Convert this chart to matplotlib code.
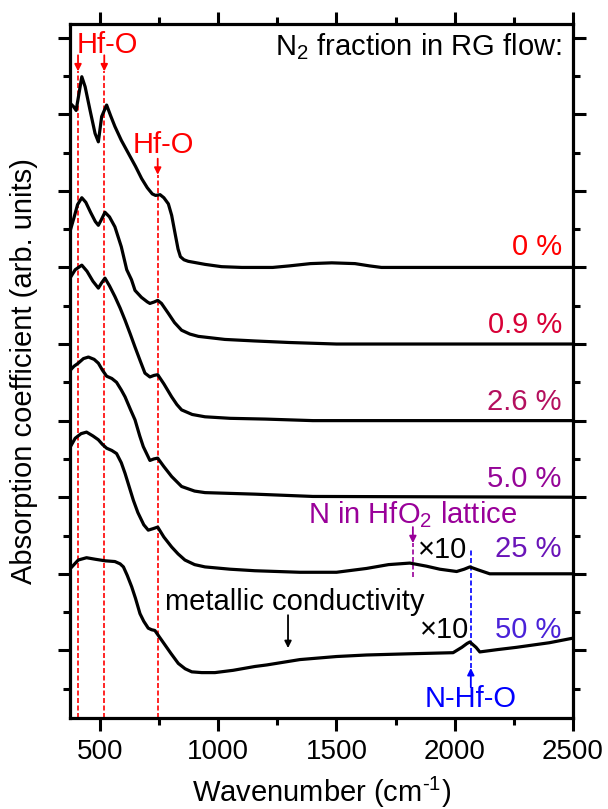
import matplotlib
matplotlib.use('Agg')
import matplotlib.pyplot as plt
from matplotlib.ticker import MultipleLocator

plt.rcParams['font.family'] = ['Liberation Sans', 'DejaVu Sans']
plt.rcParams['mathtext.fontset'] = 'custom'
plt.rcParams['mathtext.rm'] = 'Liberation Sans'
plt.rcParams['mathtext.it'] = 'Liberation Sans:italic'
plt.rcParams['mathtext.default'] = 'regular'

# IR absorption spectra, each one shifted up by one unit
wn_0 = [375, 388, 399, 410, 423, 437, 458, 479, 493, 507, 528, 545, 563, 590, 620, 650, 676,
        700, 721, 735, 754, 770, 789, 803, 817, 830, 840, 855, 873, 944, 1014, 1100, 1230,
        1300, 1390, 1480, 1578, 1640, 1690, 2500]
abs_0 = [8.14, 8.10, 8.05, 8.25, 8.49, 8.36, 8.05, 7.75, 7.64, 7.97, 8.12, 7.98, 7.84, 7.66,
         7.49, 7.32, 7.16, 7.04, 6.96, 6.94, 6.95, 6.91, 6.83, 6.68, 6.45, 6.24, 6.14, 6.10,
         6.08, 6.04, 6.01, 6.00, 6.00, 6.02, 6.05, 6.06, 6.05, 6.02, 6.00, 6.00]

wn_09 = [375, 390, 405, 423, 440, 460, 480, 493, 505, 521, 540, 563, 590, 613, 633, 648, 675,
         700, 711, 730, 744, 760, 789, 815, 845, 880, 916, 1028, 1155, 1300, 1500, 2500]
abs_09 = [6.49, 6.65, 6.82, 6.91, 6.85, 6.72, 6.60, 6.55, 6.62, 6.72, 6.66, 6.53, 6.27, 5.97,
          5.84, 5.70, 5.61, 5.55, 5.53, 5.55, 5.57, 5.53, 5.40, 5.28, 5.18, 5.13, 5.10, 5.06,
          5.04, 5.02, 5.00, 5.00]

wn_26 = [375, 395, 423, 445, 470, 493, 507, 521, 540, 563, 585, 606, 628, 648, 670, 690, 711,
         728, 744, 770, 803, 825, 845, 890, 944, 1050, 1200, 1400, 2500]
abs_26 = [5.87, 5.97, 6.03, 5.95, 5.82, 5.73, 5.80, 5.86, 5.76, 5.62, 5.47, 5.31, 5.13, 4.96,
          4.78, 4.62, 4.57, 4.59, 4.60, 4.48, 4.31, 4.21, 4.14, 4.08, 4.05, 4.03, 4.02, 4.00,
          4.00]

wn_50 = [375, 390, 408, 430, 451, 475, 493, 510, 528, 550, 570, 590, 606, 628, 648, 668, 683,
         711, 728, 744, 770, 803, 845, 900, 944, 1155, 1400, 2500]
abs_50 = [4.66, 4.71, 4.75, 4.81, 4.83, 4.80, 4.75, 4.66, 4.58, 4.55, 4.50, 4.40, 4.31, 4.15,
          4.01, 3.80, 3.66, 3.48, 3.50, 3.51, 3.40, 3.27, 3.14, 3.08, 3.06, 3.04, 3.01, 3.00]

wn_25 = [375, 395, 420, 443, 470, 493, 510, 528, 550, 570, 590, 606, 625, 641, 660, 685, 704,
         725, 744, 770, 803, 830, 859, 900, 944, 1050, 1155, 1345, 1500, 1627, 1720, 1810,
         1880, 1937, 2008, 2040, 2064, 2100, 2148, 2500]
abs_25 = [3.66, 3.77, 3.83, 3.85, 3.80, 3.75, 3.69, 3.64, 3.61, 3.57, 3.45, 3.31, 3.12, 2.96,
          2.80, 2.64, 2.57, 2.59, 2.61, 2.48, 2.35, 2.26, 2.18, 2.12, 2.09, 2.06, 2.04, 2.02,
          2.02, 2.07, 2.12, 2.14, 2.10, 2.06, 2.03, 2.06, 2.09, 2.05, 2.00, 2.00]

wn_500 = [375, 408, 443, 480, 521, 563, 585, 599, 615, 634, 650, 669, 685, 704, 718, 732, 750,
          775, 800, 831, 860, 888, 930, 986, 1063, 1155, 1205, 1345, 1500, 1627, 1800, 1993,
          2030, 2052, 2064, 2090, 2106, 2180, 2261, 2400, 2500]
abs_500 = [2.07, 2.18, 2.21, 2.19, 2.17, 2.16, 2.13, 2.09, 1.98, 1.83, 1.68, 1.48, 1.38, 1.29,
           1.27, 1.26, 1.18, 1.07, 0.96, 0.83, 0.76, 0.72, 0.71, 0.71, 0.74, 0.79, 0.81, 0.88,
           0.92, 0.94, 0.955, 0.97, 1.04, 1.09, 1.11, 1.04, 0.98, 1.01, 1.04, 1.10, 1.16]

spectra = [(wn_0, abs_0), (wn_09, abs_09), (wn_26, abs_26),
           (wn_50, abs_50), (wn_25, abs_25), (wn_500, abs_500)]

labels = ['0 %', '0.9 %', '2.6 %', '5.0 %', '25 %', '50 %']
label_colors = ['#ff0000', '#d80036', '#b4105e', '#950597', '#6a14b8', '#4a22d8']
label_y = [6.16, 5.14, 4.14, 3.13, 2.22, 1.16]

hfo_lines = [407, 518, 744]
n_lattice = 1823
n_hf_o = 2068
metallic = 1295

fig = plt.figure(figsize=(6.08, 8.09), dpi=100)
ax = fig.add_axes([0.1151, 0.1125, 0.8273, 0.8578])

for wn, a in spectra:
    ax.plot(wn, a, color='black', lw=2.3, solid_joinstyle='round', zorder=3)

ax.set_xlim(373, 2500)
ax.set_ylim(0.1175, 9.178)

# dashed marker lines with arrows
red = '#ff0000'
arr = dict(arrowstyle='-|>', lw=1.3, mutation_scale=10, shrinkA=0, shrinkB=0)
for x, top in zip(hfo_lines, [8.56, 8.56, 7.21]):
    ax.plot([x, x], [0.1175, top], color=red, lw=1.2, dashes=(3, 1.5), zorder=2)
    ax.annotate('', xy=(x, top), xytext=(x, top + 0.21),
                arrowprops=dict(arr, color=red))

purple = '#990099'
ax.plot([n_lattice, n_lattice], [1.96, 2.40], color=purple, lw=1.2, dashes=(3, 1.5), zorder=2)
ax.annotate('', xy=(n_lattice, 2.40), xytext=(n_lattice, 2.61),
            arrowprops=dict(arr, color=purple))

blue = '#0000ff'
ax.plot([n_hf_o, n_hf_o], [0.77, 2.31], color=blue, lw=1.2, dashes=(3, 1.5), zorder=2)
ax.annotate('', xy=(n_hf_o, 0.77), xytext=(n_hf_o, 0.52),
            arrowprops=dict(arr, color=blue))

ax.annotate('', xy=(metallic, 1.03), xytext=(metallic, 1.46),
            arrowprops=dict(arr, color='black'))

fs = 21
ax.text(403, 8.80, 'Hf-O', color=red, fontsize=fs, ha='left', va='baseline')
ax.text(640, 7.49, 'Hf-O', color=red, fontsize=fs, ha='left', va='baseline')
ax.text(2453, 8.77, 'N$_2$ fraction in RG flow:', fontsize=fs, ha='right', va='baseline')
for lab, c, y in zip(labels, label_colors, label_y):
    ax.text(2453, y, lab, color=c, fontsize=fs, ha='right', va='baseline')
ax.text(1379, 2.66, 'N in HfO$_2$ lattice', color=purple, fontsize=fs, ha='left', va='baseline')
ax.text(1844, 2.21, '\u00d710', fontsize=fs, ha='left', va='baseline')
ax.text(1853, 1.16, '\u00d710', fontsize=fs, ha='left', va='baseline')
ax.text(775, 1.53, 'metallic conductivity', fontsize=fs, ha='left', va='baseline')
ax.text(n_hf_o, 0.26, 'N-Hf-O', color=blue, fontsize=fs, ha='center', va='baseline')

# axes, ticks
ax.xaxis.set_major_locator(MultipleLocator(500))
ax.xaxis.set_minor_locator(MultipleLocator(250))
ax.yaxis.set_major_locator(MultipleLocator(1))
ax.yaxis.set_minor_locator(MultipleLocator(0.5))
ax.tick_params(which='both', direction='out', top=True, right=True, width=2.2)
ax.tick_params(which='major', length=9)
ax.tick_params(which='minor', length=5)
ax.tick_params(axis='x', labelsize=20, pad=6)
ax.tick_params(axis='y', labelleft=False)
for s in ax.spines.values():
    s.set_linewidth(2.3)

ax.set_xlabel(r'Wavenumber (cm$^{\text{-1}}$)', fontsize=21, labelpad=7)
ax.set_ylabel('Absorption coefficient (arb. units)', fontsize=21, labelpad=14)

fig.savefig('out.png', dpi=100)
